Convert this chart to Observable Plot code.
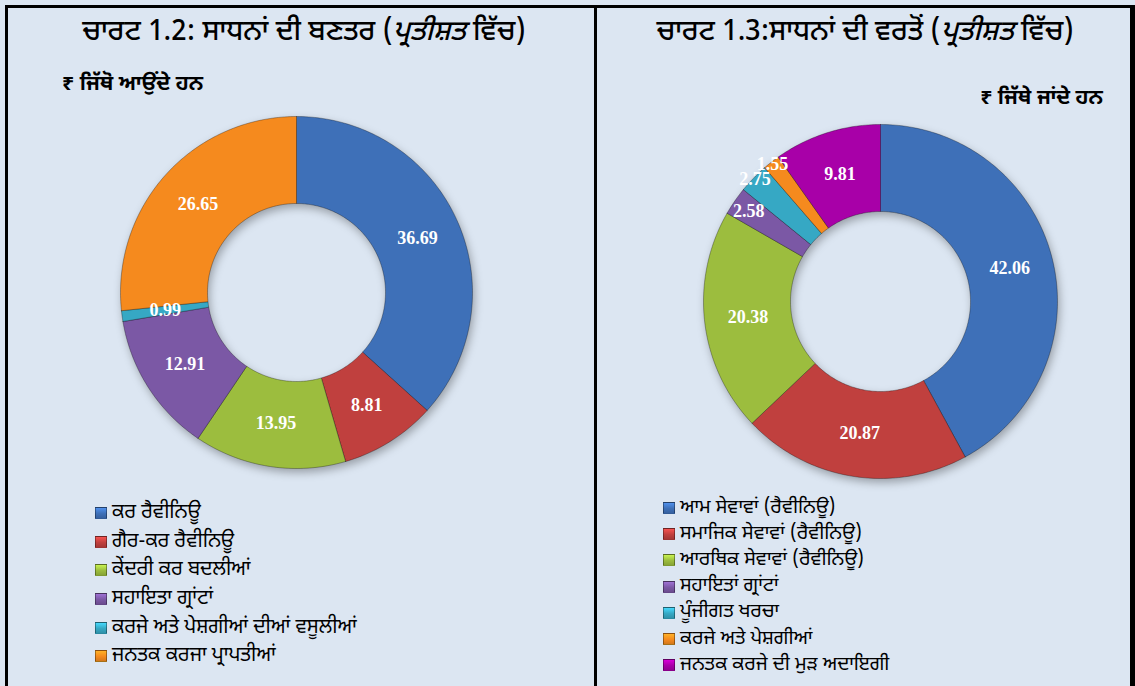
<!DOCTYPE html>
<html><head><meta charset="utf-8">
<script src="https://cdn.jsdelivr.net/npm/d3@7"></script>
<script src="https://cdn.jsdelivr.net/npm/@observablehq/plot@0.6"></script>
<style>
html,body{margin:0;padding:0;background:#fff;}
#frame{position:relative;width:1135px;height:686px;background:#dce6f2;overflow:hidden;font-family:"Noto Sans Gurmukhi","Lohit Gurmukhi","Raavi","Noto Sans",sans-serif;color:#000;}
.bd{position:absolute;background:#000;}
.title{position:absolute;top:13px;font-size:28px;font-weight:500;white-space:nowrap;transform:translateX(-50%);line-height:40px;}
.sub{position:absolute;font-size:21px;font-weight:700;white-space:nowrap;line-height:28px;}
.chart{position:absolute;}
.legend{position:absolute;}
.legend .row{display:flex;align-items:center;white-space:nowrap;}
.legend .sw{width:12px;height:12px;margin-right:5px;border:1px solid rgba(0,0,0,0.35);box-sizing:border-box;flex:none;}
#frame svg g[aria-label="line"]{filter:drop-shadow(2px 4px 4px rgba(0,0,0,0.3));}
</style>
</head><body>
<div id="frame">
  <div class="bd" style="left:5px;top:5px;width:3px;height:681px"></div>
  <div class="bd" style="left:5px;top:5px;width:1130px;height:3px"></div>
  <div class="bd" style="left:594px;top:5px;width:3px;height:681px"></div>
  <div class="bd" style="left:1130px;top:5px;width:5px;height:681px"></div>
</div>
<script>
const sourceTitle = ["ਚਾਰਟ 1.2: ਸਾਧਨਾਂ ਦੀ ਬਣਤਰ (", "ਪ੍ਰਤੀਸ਼ਤ", " ਵਿੱਚ)"];
const useTitle = ["ਚਾਰਟ 1.3:ਸਾਧਨਾਂ ਦੀ ਵਰਤੋਂ (", "ਪ੍ਰਤੀਸ਼ਤ", " ਵਿੱਚ)"];
const sourceSubtitle = "₹ ਜਿੱਥੋ ਆਉਂਦੇ ਹਨ";
const useSubtitle = "₹ ਜਿੱਥੇ ਜਾਂਦੇ ਹਨ";

const sourceCategories = ["ਕਰ ਰੈਵੀਨਿਊ","ਗੈਰ-ਕਰ ਰੈਵੀਨਿਊ","ਕੇਂਦਰੀ ਕਰ ਬਦਲੀਆਂ","ਸਹਾਇਤਾ ਗ੍ਰਾਂਟਾਂ","ਕਰਜੇ ਅਤੇ ਪੇਸ਼ਗੀਆਂ ਦੀਆਂ ਵਸੂਲੀਆਂ","ਜਨਤਕ ਕਰਜਾ ਪ੍ਰਾਪਤੀਆਂ"];
const sourceValues = [36.69, 8.81, 13.95, 12.91, 0.99, 26.65];

const useCategories = ["ਆਮ ਸੇਵਾਵਾਂ (ਰੈਵੀਨਿਊ)","ਸਮਾਜਿਕ ਸੇਵਾਵਾਂ (ਰੈਵੀਨਿਊ)","ਆਰਥਿਕ ਸੇਵਾਵਾਂ (ਰੈਵੀਨਿਊ)","ਸਹਾਇਤਾਂ ਗ੍ਰਾਂਟਾਂ","ਪੂੰਜੀਗਤ ਖਰਚਾ","ਕਰਜੇ ਅਤੇ ਪੇਸ਼ਗੀਆਂ","ਜਨਤਕ ਕਰਜੇ ਦੀ ਮੁੜ ਅਦਾਇਗੀ"];
const useValues = [42.06, 20.87, 20.38, 2.58, 2.75, 1.55, 9.81];

const sliceColors = ["#3e70b8","#c0403e","#9cbd3e","#7b58a5","#36a8c4","#f58a1e","#a800a8"];

const frame = document.getElementById("frame");

function addTitle(parts, cx) {
  const d = document.createElement("div");
  d.className = "title";
  d.style.left = cx + "px";
  d.append(parts[0]);
  const i = document.createElement("i"); i.textContent = parts[1]; d.append(i);
  d.append(parts[2]);
  frame.append(d);
}
function addSub(text, pos) {
  const d = document.createElement("div");
  d.className = "sub";
  Object.assign(d.style, pos);
  d.textContent = text;
  frame.append(d);
}
function addLegend(cats, pos, rowH, fs) {
  const d = document.createElement("div");
  d.className = "legend";
  d.style.fontSize = fs + "px";
  Object.assign(d.style, pos);
  cats.forEach((c, i) => {
    const r = document.createElement("div");
    r.className = "row"; r.style.height = rowH + "px";
    const s = document.createElement("span");
    s.className = "sw";
    const col = d3.color(sliceColors[i]);
    s.style.background = `linear-gradient(to bottom, ${col.brighter(0.7)} 0%, ${col} 55%, ${col.darker(0.4)} 100%)`;
    const t = document.createElement("span"); t.textContent = c;
    r.append(s, t); d.append(r);
  });
  frame.append(d);
}

function donut(values, cats, {R, r, size, left, top, labelR}) {
  const total = d3.sum(values);
  const pts = [], labels = [];
  let cum = 0;
  values.forEach((v, i) => {
    const a0 = cum / total * 2 * Math.PI; cum += v; const a1 = cum / total * 2 * Math.PI;
    const n = Math.max(2, Math.ceil((a1 - a0) / (Math.PI / 180)));
    const poly = [];
    for (let k = 0; k <= n; k++) { const a = a0 + (a1 - a0) * k / n; poly.push({cat: cats[i], x: Math.sin(a) * R, y: Math.cos(a) * R}); }
    for (let k = n; k >= 0; k--) { const a = a0 + (a1 - a0) * k / n; poly.push({cat: cats[i], x: Math.sin(a) * r, y: Math.cos(a) * r}); }
    poly.push({...poly[0]});
    pts.push(...poly);
    const am = (a0 + a1) / 2;
    const lr = (labelR && labelR[i]) || (R + r) / 2;
    labels.push({x: Math.sin(am) * lr, y: Math.cos(am) * lr, text: v.toFixed(2)});
  });
  const D = size / 2;
  const svg = Plot.plot({
    width: size, height: size, margin: 0,
    x: {domain: [-D, D], axis: null},
    y: {domain: [-D, D], axis: null},
    color: {domain: cats, range: sliceColors},
    style: {background: "transparent", overflow: "visible"},
    marks: [
      Plot.line(pts, {x: "x", y: "y", z: "cat", fill: "cat", stroke: "rgba(0,0,0,0.3)", strokeWidth: 1, curve: "linear"}),
      Plot.text(labels, {x: "x", y: "y", text: "text", fill: "white", fontWeight: "bold", fontSize: 18, fontFamily: "Liberation Serif, Times New Roman, serif"})
    ]
  });
  const wrap = document.createElement("div");
  wrap.className = "chart";
  wrap.style.left = left + "px"; wrap.style.top = top + "px";
  wrap.append(svg);
  frame.append(wrap);
}

addTitle(sourceTitle, 304);
addTitle(useTitle, 865);
addSub(sourceSubtitle, {left: "62px", top: "71px"});
addSub(useSubtitle, {right: "32px", top: "85px"});

donut(sourceValues, sourceCategories, {R: 176, r: 89, size: 400, left: 96, top: 92});
donut(useValues, useCategories, {R: 177, r: 90, size: 400, left: 680, top: 101, labelR: [0,0,0,160,175,175,0]});

addLegend(sourceCategories, {left: "95px", top: "499px"}, 28.6, 20);
addLegend(useCategories, {left: "663px", top: "495px"}, 26.2, 19.5);
</script>
</body></html>
